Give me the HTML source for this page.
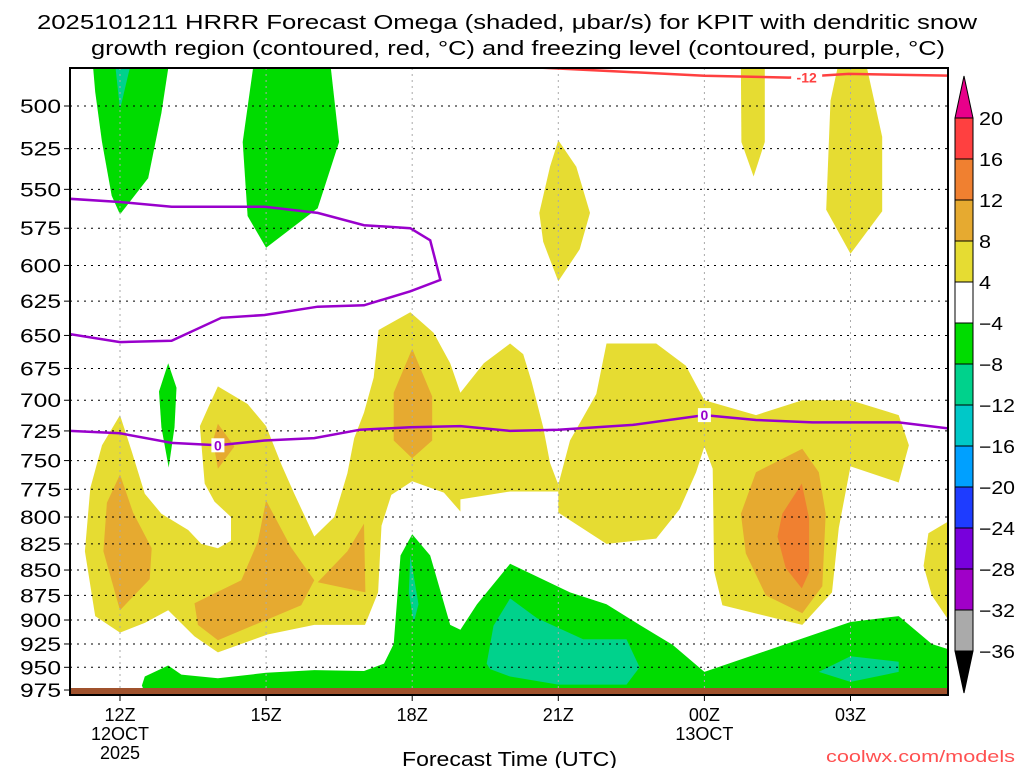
<!DOCTYPE html>
<html><head><meta charset="utf-8"><style>
body{margin:0;background:#fff;}
svg{display:block;font-family:"Liberation Sans",sans-serif;}
</style></head><body>
<svg id="chart" width="1024" height="768" viewBox="0 0 1024 768">
<text x="37" y="29" font-size="20" textLength="940" lengthAdjust="spacingAndGlyphs">2025101211 HRRR Forecast Omega (shaded, μbar/s) for KPIT with dendritic snow</text>
<text x="91" y="55" font-size="20" textLength="854" lengthAdjust="spacingAndGlyphs">growth region (contoured, red, °C) and freezing level (contoured, purple, °C)</text>
<g id="plot"></g>
<text x="402" y="766" font-size="20" textLength="215" lengthAdjust="spacingAndGlyphs">Forecast Time (UTC)</text>
<text x="826" y="762" font-size="17" fill="#ff5050" textLength="189" lengthAdjust="spacingAndGlyphs">coolwx.com/models</text>
</svg>
<script>
const pressureTicks=[500,525,550,575,600,625,650,675,700,725,750,775,800,825,850,875,900,925,950,975];
const hourTicks=[12,15,18,21,24,27];
const hourLabels=["12Z","15Z","18Z","21Z","00Z","03Z"];
const dateLabels=[["12OCT","2025"],[],[],[],["13OCT"],[]];
const cbLevels=[20,16,12,8,4,-4,-8,-12,-16,-20,-24,-28,-32,-36];
const cbColors=["#ff4040","#f08030","#e6aa30","#e6dc32","#ffffff","#00dc00","#00d28c","#00c8c8","#00a0ff","#1e3cff","#7800dc","#a000c8","#aaaaaa"];
const yellowAreas=[
[[12,712],[12.24,742],[12.51,779],[12.85,797],[13.4,812],[13.67,825],[14.01,829],[14.28,822],[14.28,800],[13.94,786],[13.74,770],[13.64,721],[13.81,706],[14.01,689],[14.62,703],[15,721],[15.31,753],[15.58,779],[15.99,818],[16.4,800],[16.67,761],[16.81,731],[17.01,710],[17.21,682],[17.31,646],[17.96,633],[18.44,648],[18.78,671],[18.99,694],[19.47,671],[20.01,656],[20.28,664],[20.45,685],[20.69,722],[20.83,752],[21,771],[21,777],[20.01,777],[18.99,784],[18.99,795],[18.65,778],[18,768],[17.57,780],[17.37,808],[17.3,872],[17.03,905],[15.99,905],[15.03,915],[14.01,934],[13.53,917],[12.99,890],[12.51,903],[12,913],[11.49,896],[11.28,832],[11.39,774],[11.63,737]],
[[21.99,656],[23.01,656],[23.62,673],[24,700],[25.06,712],[26.01,700],[27,700],[27.99,712],[28.2,737],[27.99,769],[27,755],[26.76,810],[26.62,872],[26.01,905],[24.37,885],[24.2,851],[24.17,757],[24,738],[23.83,760],[23.49,793],[23.01,820],[21.99,825],[21,796],[21,771],[21.24,733],[21.78,695]],
[[29.01,804],[28.6,815],[28.5,846],[28.67,875],[29.01,900]],
[[21,520],[21.37,536],[21.65,565],[21.44,589],[21,611],[20.69,584],[20.61,565],[20.83,536]],
[[24.75,479],[25.24,479],[25.24,521],[25.01,542],[24.76,521]],
[[26.73,479],[27.34,479],[27.65,518],[27.65,564],[27,592],[26.5,563],[26.59,497]]
];
const orangeAreas=[
[[12,762],[12.27,796],[12.65,829],[12.61,859],[12,890],[11.66,832],[11.73,787]],
[[14.01,719],[14.35,738],[14.01,757],[13.91,733]],
[[15,785],[15.51,828],[15.99,860],[15.72,885],[14.01,921],[13.6,905],[13.53,883],[14.49,860],[14.83,823]],
[[17.01,806],[17.04,872],[16.06,862],[16.67,832]],
[[18,660],[18.41,697],[18.41,733],[18,748],[17.62,733],[17.62,694]],
[[26.01,740],[26.35,760],[26.49,797],[26.42,866],[26.01,893],[25.26,875],[24.85,834],[24.75,797],[25.06,760]]
];
const darkOrangeAreas=[[[26,770],[26.15,801],[26.15,852],[26,868],[25.67,848],[25.5,818],[25.6,797]]];
const greenAreas=[
[[11.45,479],[12.99,479],[12.85,504],[12.58,543],[12,566],[11.83,554],[11.63,521],[11.49,492]],
[[14.73,479],[16.33,479],[16.5,521],[16.06,562],[15,588],[14.62,567],[14.52,521]],
[[12.99,671],[13.16,690],[13.12,722],[13,756],[12.85,722],[12.8,693]],
[[12.51,960],[12.99,948],[13.26,958],[14.01,962],[15,956],[15.99,953],[17.01,954],[17.42,946],[17.62,925],[17.76,836],[18,816],[18.37,836],[18.78,905],[18.99,910],[19.33,884],[20.01,844],[21.24,872],[21.99,884],[22.67,905],[23.35,926],[24,955],[27,902],[27.99,896],[28.67,925],[29.03,931],[29.03,978],[12.51,978],[12.45,970]]
];
const tealAreas=[
[[11.91,479],[12.2,479],[12,502]],
[[17.96,836],[18.13,884],[18.03,903],[17.93,872]],
[[19.53,946],[19.67,906],[20.01,878],[20.56,898],[21.51,920],[22.4,920],[22.67,950],[22.4,969],[21,969],[20.01,960],[19.6,952]],
[[26.35,955],[27,938],[27.99,944],[27.99,955],[27,966]]
];
const freezeUpper=[[10.97,556],[12,558],[13.06,561],[14.97,561],[16.06,565],[17.01,573],[17.96,575],[18.37,583],[18.58,610],[17.96,618],[17.01,628],[16.06,629],[14.97,635],[14.08,637],[13.06,654],[12,655],[10.97,649]];
const freezeLower=[[10.97,725],[12,727],[13.06,735],[14.01,737],[14.97,733],[15.99,731],[16.93,724],[17.96,722],[18.99,721],[20.01,725],[21,724],[22.53,720],[24,712],[25.06,716],[26.22,718],[27.99,718],[29.03,723]];
const dgzLine=[[20.63,478.5],[24,483],[25.74,484],[26.96,482],[29.03,483]];
const contourLabels=[["0",14.01,737,"#9900cc"],["0",24,712,"#9900cc"],["-12",26.1,484,"#ff4040"]];

const X0=70,X1=948,Y0=68,Y1=695;
const x=h=>120+(h-12)*48.7;
const y=p=>106+874.5*Math.log(p/500);
const NS="http://www.w3.org/2000/svg";
const plot=document.getElementById('plot');
const svg=document.getElementById('chart');
function mk(tag,attrs,parent){const e=document.createElementNS(NS,tag);for(const k in attrs)e.setAttribute(k,attrs[k]);(parent||plot).appendChild(e);return e;}
const clip=mk('clipPath',{id:'pc'});mk('rect',{x:X0,y:Y0,width:X1-X0,height:Y1-Y0},clip);
const g=mk('g',{'clip-path':'url(#pc)'});


function pts(a){return a.map(d=>x(d[0]).toFixed(1)+','+y(d[1]).toFixed(1)).join(' ');}
function areas(list,color,name){list.forEach(a=>{const e=mk('polygon',{points:pts(a),fill:color},g);

});}
areas(yellowAreas,"#e6dc32","omega-4-8");
areas(orangeAreas,"#e6aa30","omega-8-12");
areas(darkOrangeAreas,"#f08030","omega-12-16");
areas(greenAreas,"#00dc00","omega-neg4-neg8");
areas(tealAreas,"#00d28c","omega-neg8-neg12");
pressureTicks.forEach(p=>{const l=mk('line',{x1:X0,x2:X1,y1:y(p),y2:y(p),stroke:'#000','stroke-width':1,'stroke-dasharray':'2,5'},g);

});
hourTicks.forEach(h=>{const l=mk('line',{x1:x(h),x2:x(h),y1:Y0,y2:Y1,stroke:'#aaa','stroke-width':1,'stroke-dasharray':'2,4'},g);

});
const gr=mk('rect',{x:X0,y:688,width:X1-X0,height:Y1-688,fill:'#a0522d'},g);


function line(a,color,name){const e=mk('polyline',{points:pts(a),fill:'none',stroke:color,'stroke-width':2.5},g);

}
line(freezeUpper,'#9900cc','freezing-level-upper');
line(freezeLower,'#9900cc','freezing-level-lower');
line(dgzLine,'#ff4040','dgz-minus12-line');
contourLabels.forEach(c=>{const w=c[0].length*9+4;
mk('rect',{x:x(c[1])-w/2,y:y(c[2])-7,width:w,height:14,fill:'#fff'},g);
const t=mk('text',{x:x(c[1]),y:y(c[2])+5,'font-size':14,'font-weight':'bold',fill:c[3],'text-anchor':'middle'},g);t.textContent=c[0];

});
const fr=mk('rect',{x:X0,y:Y0,width:X1-X0,height:Y1-Y0,fill:'none',stroke:'#000','stroke-width':2});


pressureTicks.forEach(p=>{mk('line',{x1:X0-6,x2:X0,y1:y(p),y2:y(p),stroke:'#000'});
const t=mk('text',{x:20,y:y(p)+7,'font-size':19,textLength:41,lengthAdjust:'spacingAndGlyphs'});t.textContent=p;

});
hourTicks.forEach((h,i)=>{mk('line',{x1:x(h),x2:x(h),y1:Y1,y2:Y1+6,stroke:'#000'});
const lines=[hourLabels[i]].concat(dateLabels[i]);
lines.forEach((s,j)=>{const t=mk('text',{x:x(h),y:721+j*19,'font-size':18,'text-anchor':'middle'});t.textContent=s;

});});
const cbx=955,cbw=18,cbTop=118,cbH=41;
const cb=mk('g',{},svg);


mk('polygon',{points:`${cbx},${cbTop} ${cbx+cbw},${cbTop} ${cbx+cbw/2},76`,fill:'#e8008a',stroke:'#000'},cb);
cbColors.forEach((c,i)=>{mk('rect',{x:cbx,y:cbTop+i*cbH,width:cbw,height:cbH,fill:c,stroke:'#000'},cb);});
const cbBot=cbTop+cbColors.length*cbH;
mk('polygon',{points:`${cbx},${cbBot} ${cbx+cbw},${cbBot} ${cbx+cbw/2},${cbBot+42}`,fill:'#000',stroke:'#000'},cb);
cbLevels.forEach((v,i)=>{const s=(v<0?'\u2212'+(-v):String(v));
const t=mk('text',{x:cbx+cbw+6,y:cbTop+(i)*cbH+7,'font-size':18,textLength:s.length*12,lengthAdjust:'spacingAndGlyphs'},cb);t.textContent=s;

});
</script>
</body></html>
